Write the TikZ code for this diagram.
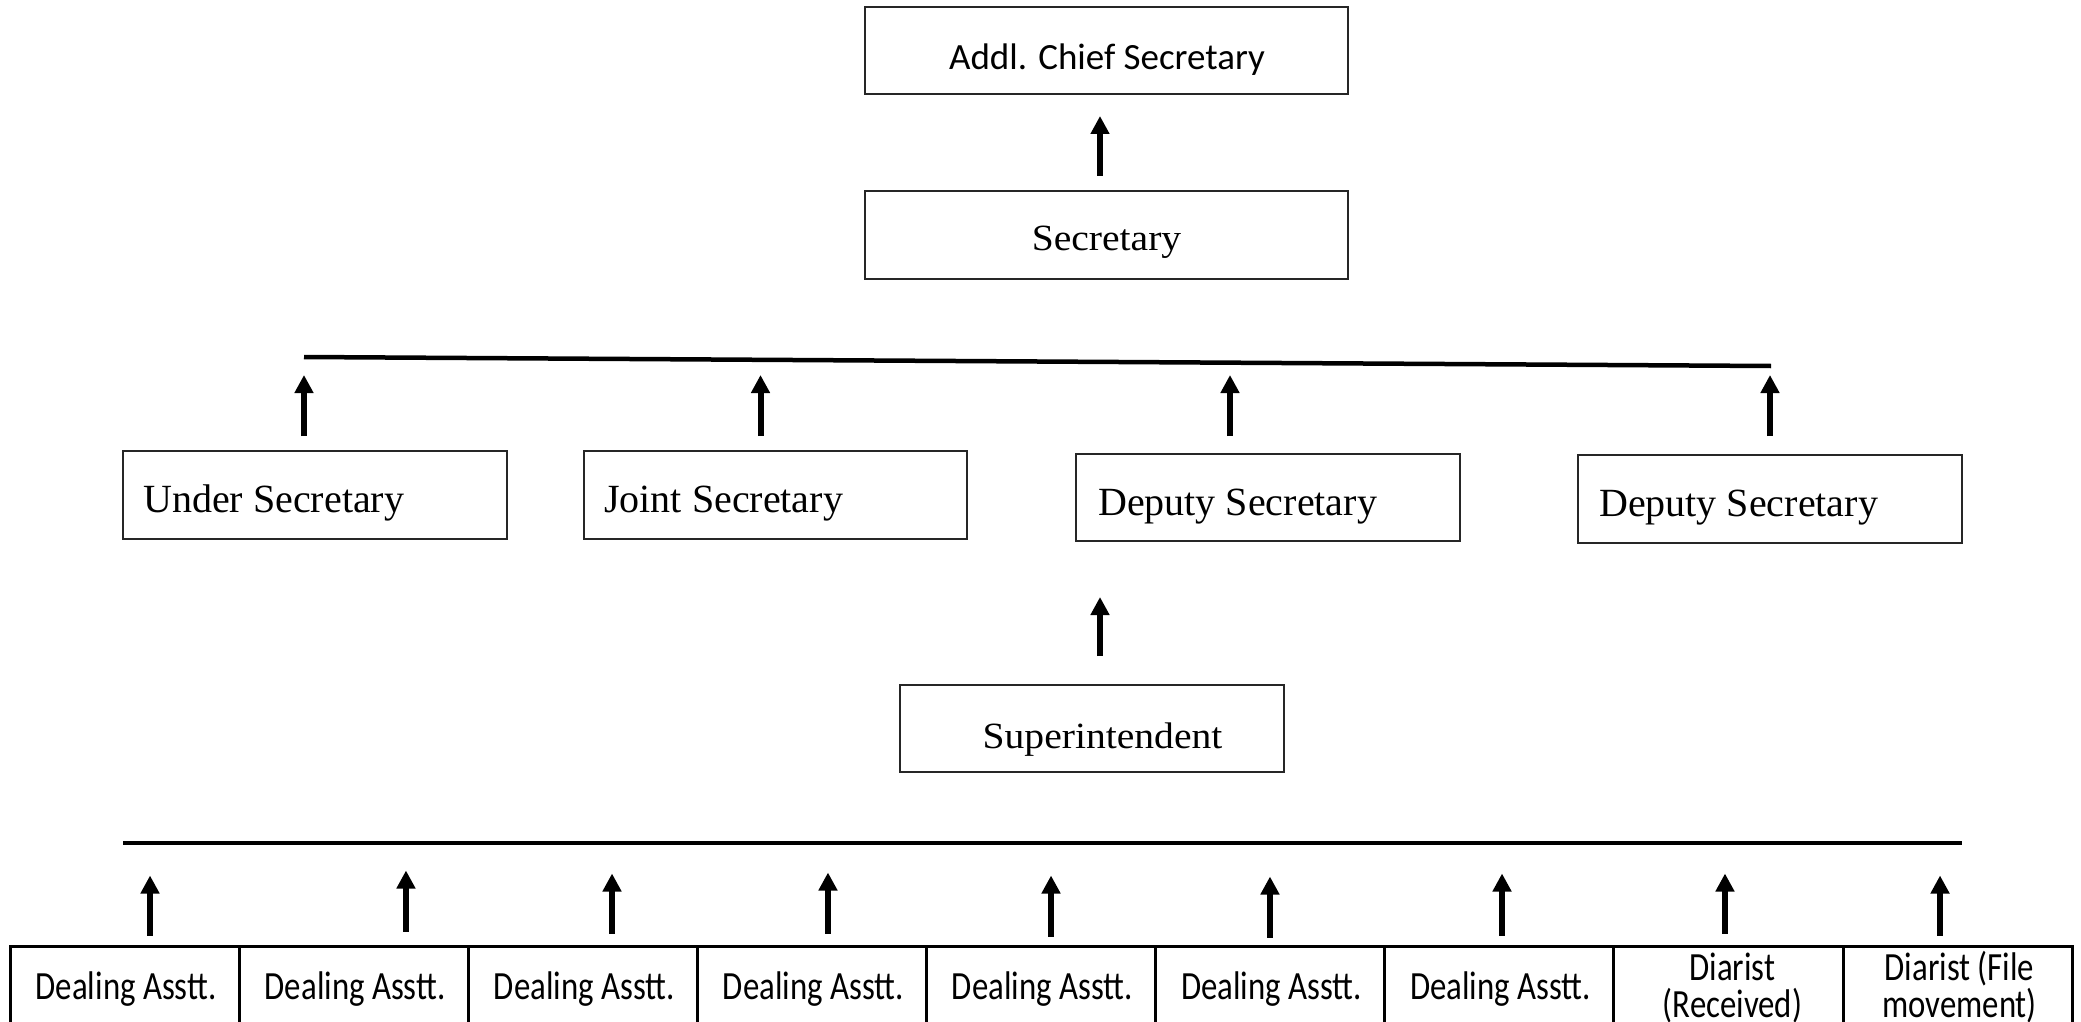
\documentclass[tikz,border=0pt]{standalone}
\usepackage{fontspec}
\usetikzlibrary{arrows.meta,calc}
\newfontfamily\fcal{Carlito}
\newfontfamily\fcalc[FakeStretch=0.82]{Carlito}
\newfontfamily\fserw[FakeStretch=1.07]{Liberation Serif}
\newfontfamily\fserc{Liberation Serif}
\begin{document}
\begin{tikzpicture}[x=1pt,y=-1pt,
  box/.style={draw=black!85, line width=2pt, inner sep=0pt, minimum width=#1, minimum height=87pt},
  cellbox/.style={draw=black, line width=3pt, inner sep=0pt, minimum width=229.05pt, minimum height=110pt},
  txt/.style={inner sep=0pt, anchor=base},
  txtl/.style={inner sep=0pt, anchor=base west},
  arr/.style={line width=6pt, -{Triangle[width=18pt,length=18pt]}},
  barline/.style={line width=4.5pt},
  topfont/.style={font=\fcal\fontsize{37pt}{44pt}\selectfont},
  serwide/.style={font=\fserw\fontsize{37pt}{44pt}\selectfont},
  sercond/.style={font=\fserc\fontsize{40pt}{47pt}\selectfont},
  cellfont/.style={font=\fcalc\fontsize{40pt}{37.5pt}\selectfont, align=center}]
\useasboundingbox (0,0) rectangle (2081,1022);
\clip (0,0) rectangle (2081,1022);
\fill[white] (0,0) rectangle (2081,1022);

% boxes
\node[box=483pt] (acs) at (1106.5,50.5) {};
\node[box=483pt, minimum height=88pt] (sec) at (1106.5,235) {};
\node[box=384pt, minimum height=88pt] (usec) at (315,495) {};
\node[box=383pt, minimum height=88pt] (jsec) at (775.5,495) {};
\node[box=384pt] (dsec1) at (1268,497.5) {};
\node[box=384pt, minimum height=88pt] (dsec2) at (1770,499) {};
\node[box=384pt] (sup) at (1092,728.5) {};

% texts
\node[txt, topfont] (acst) at (1107,70) {Addl. Chief Secretary};
\node[txt, serwide] (sect) at (1106.5,250) {Secretary};
\node[txtl, sercond] (usect) at (143,512) {Under Secretary};
\node[txtl, sercond] (jsect) at (604,512) {Joint Secretary};
\node[txtl, sercond] (dsec1t) at (1098,515) {Deputy Secretary};
\node[txtl, sercond] (dsec2t) at (1599,516) {Deputy Secretary};
\node[txt, serwide] (supt) at (1102.5,748) {Superintendent};

% bars
\coordinate (tbL) at (304,357);
\coordinate (tbR) at (1771,366);
\draw[barline] (tbL) -- (tbR);
\coordinate (bbL) at (123,843);
\coordinate (bbR) at (1962,843);
\draw[barline] (bbL) -- (bbR);

% arrows upper part
\draw[arr] ($(sec.north)+(-6.5,-14)$) -- ($(acs.south)+(-6.5,21)$);
\draw[arr] ($(usec.north)+(-11,-14)$) -- ($(usec.north)+(-11,-75)$);
\draw[arr] ($(jsec.north)+(-15,-14)$) -- ($(jsec.north)+(-15,-75)$);
\draw[arr] ($(dsec1.north)+(-38,-17)$) -- ($(dsec1.north)+(-38,-78)$);
\draw[arr] ($(dsec2.north)+(0,-18)$) -- ($(dsec2.north)+(0,-79)$);
\draw[arr] ($(sup.north)+(8,-28)$) -- ($(sup.north |- dsec1.south)+(8,55)$);

% table cells
\foreach \i in {1,...,9} {
  \node[cellbox] (c\i) at ({10.6+229.05*(\i-0.5)},1001) {};
}
\foreach \i in {1,...,7} {
  \node[txt, cellfont] (ct\i) at ($(c\i.north)+(1,55)$) {Dealing Asstt.};
}
\node[txt, cellfont] (ct8) at ($(c8.north)+(4,73)$) {Diarist\\(Received)};
\node[txt, cellfont] (ct9) at ($(c9.north)+(2,73)$) {Diarist (File\\movement)};

% arrows lower part
\foreach \i/\dx/\b/\t in {1/24.9/9/69, 2/51.8/13/74, 3/28.8/11/71, 4/15.7/11/72, 5/9.7/8/69, 6/-0.4/7/68, 7/2.6/9/71, 8/-3.5/11/71, 9/-17.5/9/69} {
  \draw[arr] ($(c\i.north)+(\dx,-\b)$) -- ($(c\i.north)+(\dx,-\t)$);
}
\end{tikzpicture}
\end{document}
